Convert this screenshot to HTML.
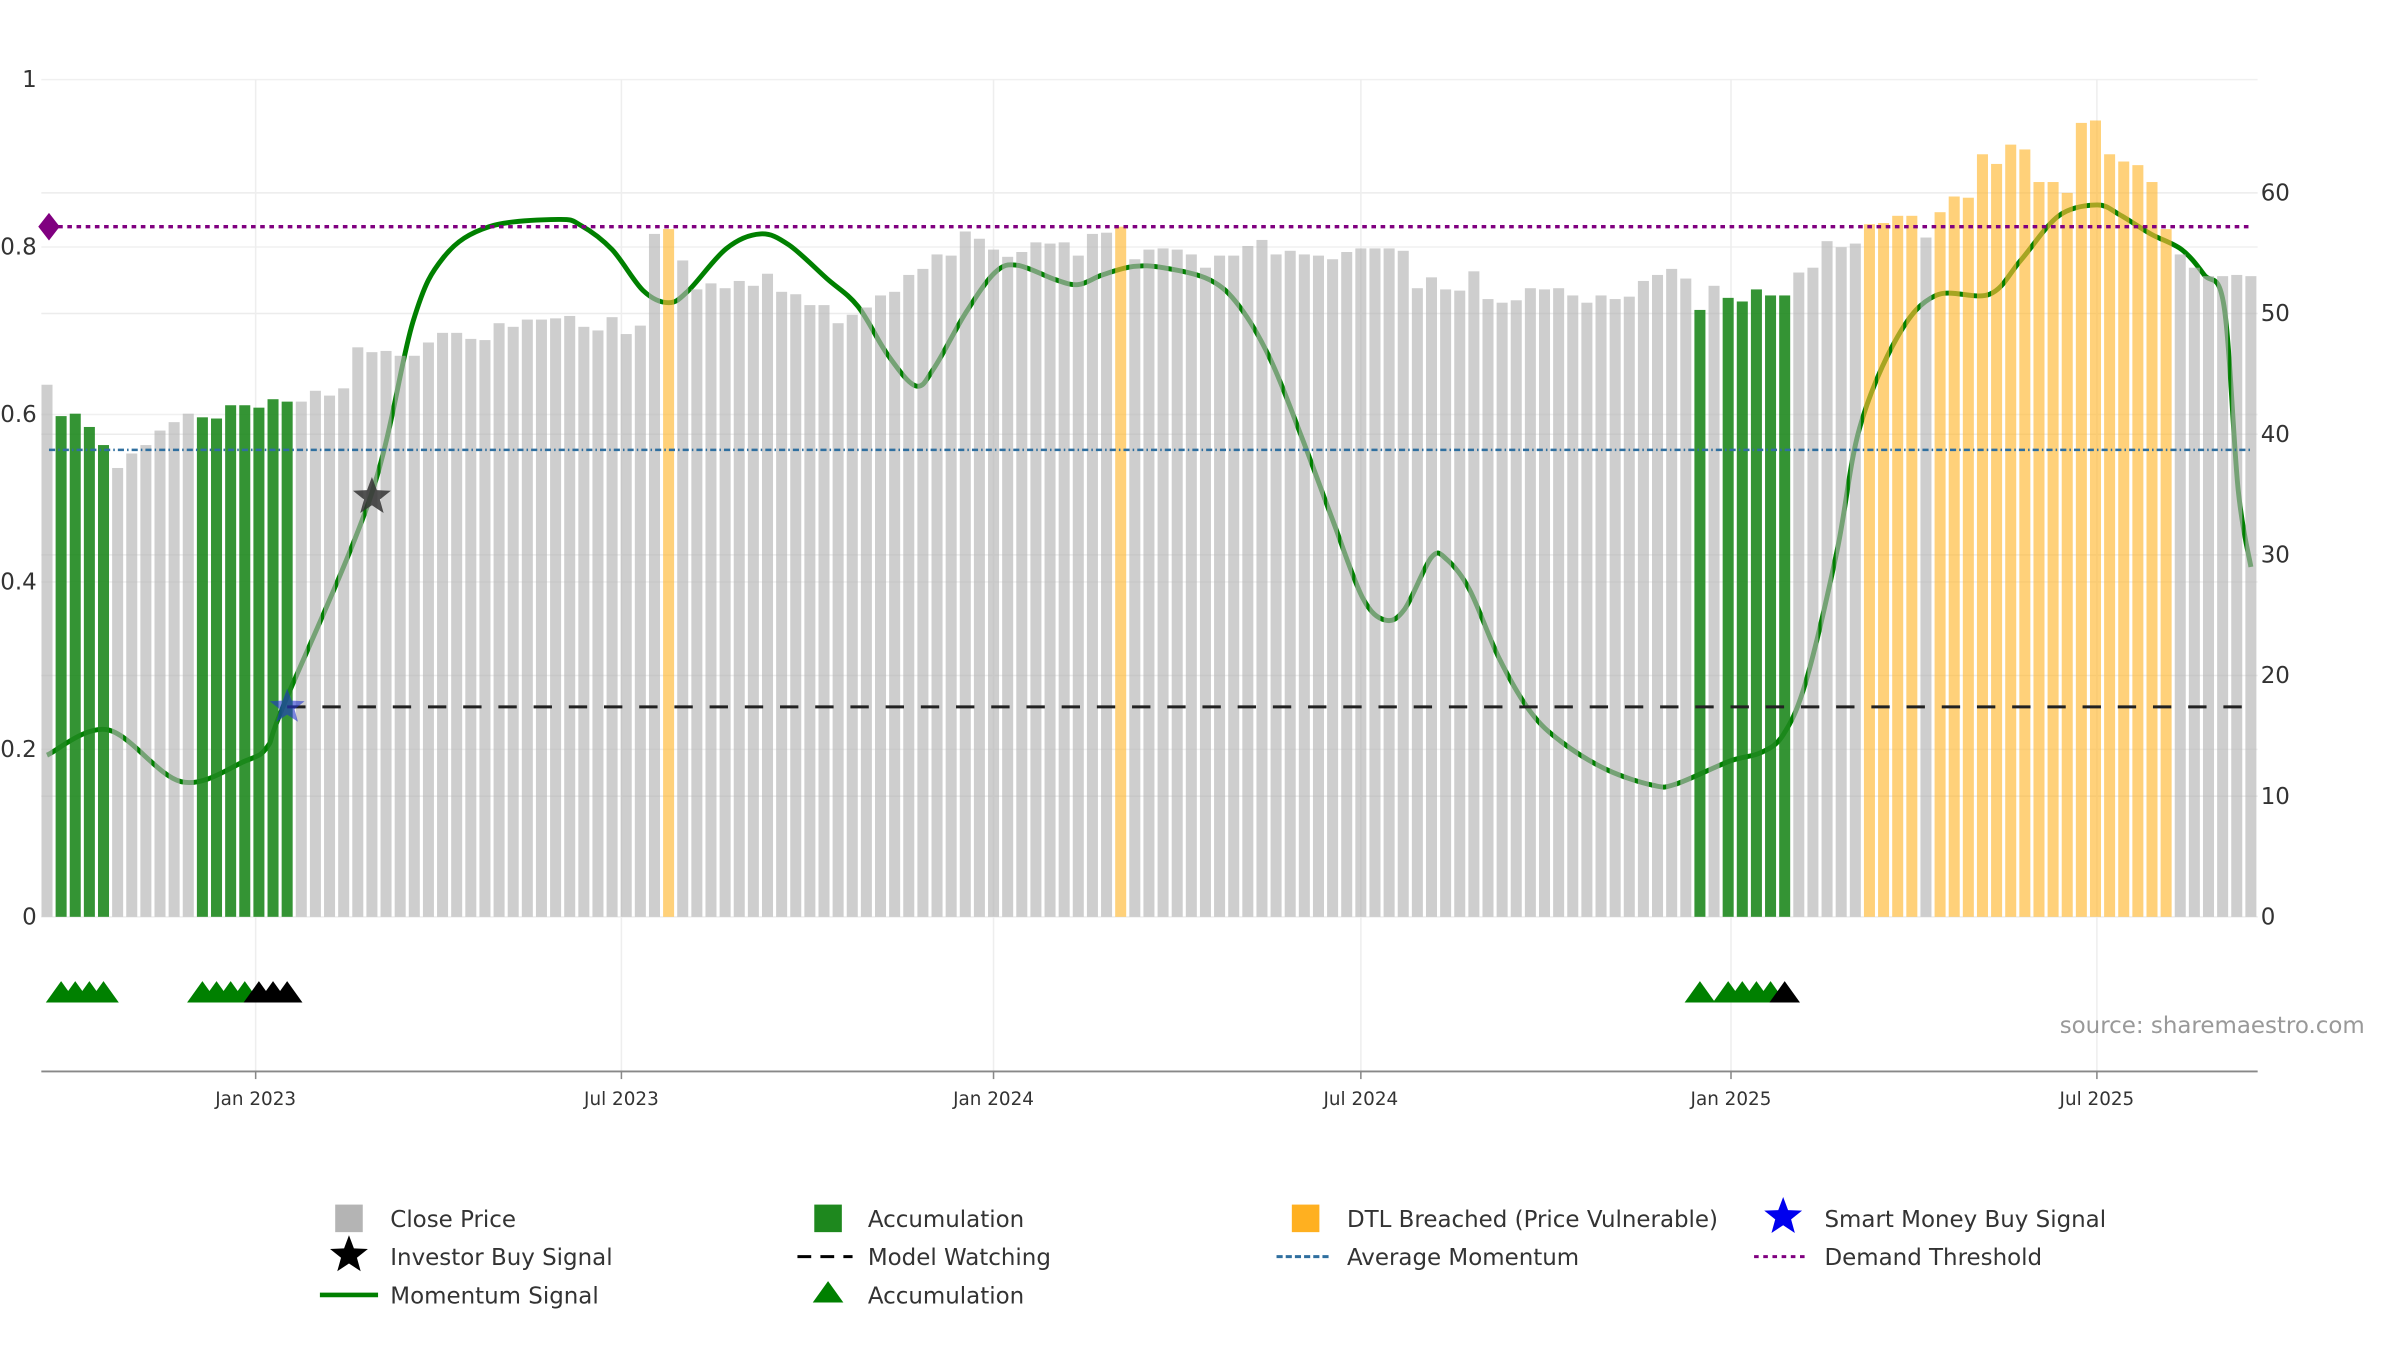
<!DOCTYPE html>
<html><head><meta charset="utf-8"><style>
html,body{margin:0;padding:0;background:#fff;}
svg{display:block;font-family:"DejaVu Sans","Liberation Sans",sans-serif;}
</style></head><body>
<svg id="chart" width="2400" height="1350" viewBox="0 0 1568 882" preserveAspectRatio="none" xmlns="http://www.w3.org/2000/svg">
<g id="grid"></g>
<g id="line"></g>
<g id="bars"></g>
<g id="refs"></g>
<g id="axes"></g>
<g id="sig"></g>
<text x="1545" y="675" text-anchor="end" font-size="15" fill="#999">source: sharemaestro.com</text>
<g id="legend"></g>
</svg>
<script>
const prices = [44.1,41.5,41.7,40.6,39.1,37.2,38.4,39.1,40.3,41.0,
41.7,41.4,41.3,42.4,42.4,42.2,42.9,42.7,42.7,43.6,
43.2,43.8,47.2,46.8,46.9,46.5,46.5,47.6,48.4,48.4,
47.9,47.8,49.2,48.9,49.5,49.5,49.6,49.8,48.9,48.6,
49.7,48.3,49.0,56.6,57.0,54.4,52.0,52.5,52.1,52.7,
52.3,53.3,51.8,51.6,50.7,50.7,49.2,49.9,50.5,51.5,
51.8,53.2,53.7,54.9,54.8,56.8,56.2,55.3,54.7,55.1,
55.9,55.8,55.9,54.8,56.6,56.7,57.2,54.5,55.3,55.4,
55.3,54.9,53.8,54.8,54.8,55.6,56.1,54.9,55.2,54.9,
54.8,54.5,55.1,55.4,55.4,55.4,55.2,52.1,53.0,52.0,
51.9,53.5,51.2,50.9,51.1,52.1,52.0,52.1,51.5,50.9,
51.5,51.2,51.4,52.7,53.2,53.7,52.9,50.3,52.3,51.3,
51.0,52.0,51.5,51.5,53.4,53.8,56.0,55.5,55.8,57.4,
57.5,58.1,58.1,56.3,58.4,59.7,59.6,63.2,62.4,64.0,
63.6,60.9,60.9,60.0,65.8,66.0,63.2,62.6,62.3,60.9,
57.0,54.9,53.8,53.1,53.1,53.2,53.1];
const accumIdx = [1,2,3,4,11,12,13,14,15,16,17,117,119,120,121,122,123];
const dtlIdx = [44,76,129,130,131,132,134,135,136,137,138,139,140,141,142,143,144,145,146,147,148,149,150];
const momIdx = [0,4.3,9.5,14,15.6,16.7,22.9,25.9,28.1,31.3,36.2,37.8,40,42.2,44,45.4,48.1,50.5,52.5,55.2,57.4,59.5,61.5,62.8,65,67.1,68.7,71.4,73,74.7,76.9,79,82.3,84.4,86.6,88.8,91,93.1,94.7,96.1,98,99.1,100.7,102.8,105,107.2,110.4,113.7,115.3,119.1,121.3,122.9,124.5,126.7,128.3,131,133.7,137.5,139.7,142.4,145.1,146.7,148.9,151.1,152.7,154.1,155.1,156];
const momVal = [13.4,15.5,11.2,12.9,14.1,17.4,34.8,49.3,54.7,57.2,57.8,57.3,55.3,51.9,50.9,51.9,55.4,56.6,55.7,52.9,50.6,46.6,44.0,45.5,50.0,53.4,54.0,52.8,52.4,53.2,53.9,53.8,52.8,50.6,46.2,39.8,32.9,26.5,24.6,25.5,29.8,29.6,27.1,21.4,17.0,14.5,12.2,10.9,11.0,12.9,13.6,15.1,19.5,30.3,40.5,48.1,51.5,51.6,54.4,58.1,59.0,58.2,56.6,55.3,53.2,50.6,35.4,29.0];
const demandThreshold = [57.2];
const avgMomentum = [38.7];
const modelWatching = [17.4];
const modelWatchStart = [17];
const investorBuyIdx = [23];
const investorBuyVal = [34.8];
const smartMoneyIdx = [17];
const smartMoneyVal = [17.4];
const accumTriIdx = [1,2,3,4,11,12,13,14,117,119,120,121,122];
const blackTriIdx = [15,16,17,123];
const rightTicks = [0,10,20,30,40,50,60];
const leftTicks = [0,0.2,0.4,0.6,0.8,1];
const leftTickLabels = ["0","0.2","0.4","0.6","0.8","1"];
const xTickIdx = [14.77,40.66,67.0,93.0,119.2,145.1];
const xTickLabels = ["Jan 2023","Jul 2023","Jan 2024","Jul 2024","Jan 2025","Jul 2025"];

const NS="http://www.w3.org/2000/svg";
function xOf(i){return 30.7+9.23*i;}
function yR(v){return 599-7.883*v;}
function yL(v){return 599-547*v;}
function mk(tag,attrs,parent){const e=document.createElementNS(NS,tag);for(const k in attrs)e.setAttribute(k,attrs[k]);parent.appendChild(e);return e;}
const G=id=>document.getElementById(id);

const grid=G('grid');
rightTicks.forEach(t=>{const l=mk('line',{x1:27,x2:1475,y1:yR(t),y2:yR(t),stroke:'#ececec','stroke-width':1},grid);

});
leftTicks.forEach(t=>{const l=mk('line',{x1:27,x2:1475,y1:yL(t),y2:yL(t),stroke:'#f0f0f0','stroke-width':1},grid);

});
xTickIdx.forEach(t=>{const l=mk('line',{x1:xOf(t),x2:xOf(t),y1:52,y2:700,stroke:'#eeeeee','stroke-width':1},grid);

});

const pts=momIdx.map((d,k)=>[xOf(d),yR(momVal[k])]);
let dp='M'+pts[0][0]+','+pts[0][1];
for(let k=0;k<pts.length-1;k++){const p0=pts[Math.max(0,k-1)],p1=pts[k],p2=pts[k+1],p3=pts[Math.min(pts.length-1,k+2)];
const c1=[p1[0]+(p2[0]-p0[0])/6,p1[1]+(p2[1]-p0[1])/6],c2=[p2[0]-(p3[0]-p1[0])/6,p2[1]-(p3[1]-p1[1])/6];
dp+=` C${c1[0]},${c1[1]} ${c2[0]},${c2[1]} ${p2[0]},${p2[1]}`;}
const ml=mk('path',{d:dp,fill:'none',stroke:'#008000','stroke-width':3.2,'stroke-linejoin':'round'},G('line'));



const bars=G('bars');
prices.forEach((v,i)=>{let c='#b4b4b4',name='close-price-bar';
if(accumIdx.includes(i)){c='#1e881e';name='accumulation-bar';}
if(dtlIdx.includes(i)){c='#ffb833';name='dtl-breached-bar';}
const r=mk('rect',{x:xOf(i)-3.6,y:yR(v),width:7.2,height:yR(0)-yR(v),fill:c,'fill-opacity':accumIdx.includes(i)?0.9:0.65},bars);

});

const refs=G('refs');
let l=mk('line',{x1:32,x2:1470,y1:yR(demandThreshold[0]),y2:yR(demandThreshold[0]),stroke:'#800080','stroke-width':2.2,'stroke-dasharray':'3,3'},refs);


l=mk('line',{x1:32,x2:1470,y1:yR(avgMomentum[0]),y2:yR(avgMomentum[0]),stroke:'#2f6f9f','stroke-width':1.6,'stroke-dasharray':'4,2,1,2'},refs);


l=mk('line',{x1:xOf(modelWatchStart[0]),x2:1470,y1:yR(modelWatching[0]),y2:yR(modelWatching[0]),stroke:'#222','stroke-width':2,'stroke-dasharray':'12,11'},refs);


const dy=yR(demandThreshold[0]);
l=mk('path',{d:`M32,${dy-9} L39,${dy} L32,${dy+9} L25,${dy} Z`,fill:'#800080'},refs);



function star(cx,cy,r,fill,parent,op){let d='';for(let k=0;k<10;k++){const rr=k%2?r*0.42:r;const a=-Math.PI/2+k*Math.PI/5;d+=(k?'L':'M')+(cx+rr*Math.cos(a)).toFixed(2)+','+(cy+rr*Math.sin(a)).toFixed(2);}
return mk('path',{d:d+'Z',fill:fill,'fill-opacity':op||1},parent);}
const sg=G('sig');
investorBuyIdx.forEach((d,k)=>{const s=star(xOf(d),yR(investorBuyVal[k]),13,'#333',sg,0.85);

});
smartMoneyIdx.forEach((d,k)=>{const s=star(xOf(d),yR(smartMoneyVal[k]),12,'#2233cc',sg,0.6);

});
function tri(cx,cy,fill,parent){return mk('path',{d:`M${cx-10},${cy+7} L${cx},${cy-7} L${cx+10},${cy+7} Z`,fill:fill},parent);}
accumTriIdx.forEach(d=>{const t=tri(xOf(d),648,'#008000',sg);

});
blackTriIdx.forEach(d=>{const t=tri(xOf(d),648,'#000',sg);

});

const ax=G('axes');
leftTicks.forEach((t,k)=>{const e=mk('text',{x:24,y:yL(t)+5,'text-anchor':'end','font-size':15,fill:'#333'},ax);e.textContent=leftTickLabels[k];

});
rightTicks.forEach(t=>{const e=mk('text',{x:1477,y:yR(t)+5,'font-size':15,fill:'#333'},ax);e.textContent=t;

});
l=mk('line',{x1:27,x2:1475,y1:700,y2:700,stroke:'#888','stroke-width':1.2},ax);


xTickIdx.forEach((t,k)=>{const tk=mk('line',{x1:xOf(t),x2:xOf(t),y1:700,y2:705,stroke:'#888'},ax);


const e=mk('text',{x:xOf(t),y:722,'text-anchor':'middle','font-size':12,fill:'#333'},ax);e.textContent=xTickLabels[k];

});

const lg=G('legend');
function ltext(x,y,s){const e=mk('text',{x:x,y:y+5.5,'font-size':15,fill:'#333'},lg);e.textContent=s;

}
function lent(el,name){
}
lent(mk('rect',{x:219,y:787,width:18,height:18,fill:'#b4b4b4'},lg),'legend-close-price');ltext(255,796,'Close Price');
lent(mk('rect',{x:532,y:787,width:18,height:18,fill:'#1e881e'},lg),'legend-accumulation');ltext(567,796,'Accumulation');
lent(mk('rect',{x:844,y:787,width:18,height:18,fill:'#ffb020'},lg),'legend-dtl-breached');ltext(880,796,'DTL Breached (Price Vulnerable)');
lent(star(1165,795,13,'#0000ee',lg),'legend-smart-money');ltext(1192,796,'Smart Money Buy Signal');
lent(star(228,820,13,'#000',lg),'legend-investor-buy');ltext(255,821,'Investor Buy Signal');
lent(mk('line',{x1:521,x2:557,y1:821,y2:821,stroke:'#000','stroke-width':2,'stroke-dasharray':'9,6'},lg),'legend-model-watching');ltext(567,821,'Model Watching');
lent(mk('line',{x1:834,x2:870,y1:821,y2:821,stroke:'#2f6f9f','stroke-width':2,'stroke-dasharray':'4,2'},lg),'legend-average-momentum');ltext(880,821,'Average Momentum');
lent(mk('line',{x1:1146,x2:1182,y1:821,y2:821,stroke:'#800080','stroke-width':2,'stroke-dasharray':'3,3'},lg),'legend-demand-threshold');ltext(1192,821,'Demand Threshold');
lent(mk('line',{x1:209,x2:247,y1:846,y2:846,stroke:'#008000','stroke-width':3},lg),'legend-momentum-signal');ltext(255,846,'Momentum Signal');
lent(tri(541,844,'#008000',lg),'legend-accumulation-triangle');ltext(567,846,'Accumulation');
</script>
</body></html>
